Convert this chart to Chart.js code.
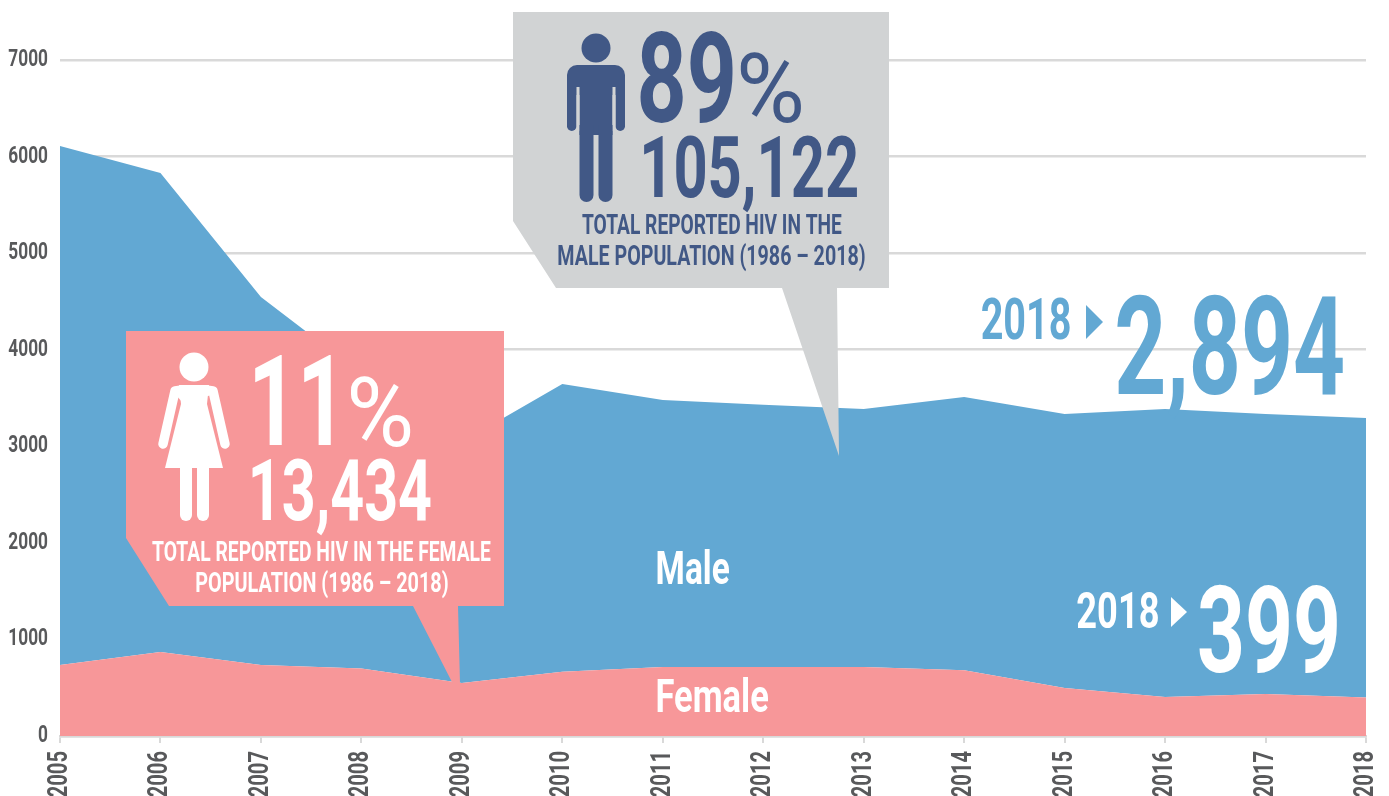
<!DOCTYPE html>
<html><head><meta charset="utf-8">
<style>html,body{margin:0;padding:0;background:#fff;overflow:hidden}canvas{display:block}</style>
<script src="https://cdn.jsdelivr.net/npm/chart.js@4"></script>
</head><body><canvas id="c" width="1389" height="796"></canvas>
<script>
const years=['2005','2006','2007','2008','2009','2010','2011','2012','2013','2014','2015','2016','2017','2018'];
const female=[735,870,735,700,550,665,715,715,715,680,497,405,435,399];
const male=[5375,4960,3811,3050,2495,2980,2765,2715,2670,2830,2838,2980,2900,2894];
const yTicks=[0,1000,2000,3000,4000,5000,6000,7000];
const BLUE='#62a8d3',PINK='#f79799',GREY='#d1d3d4',NAVY='#415886',WHITE='#ffffff',FAM='Roboto,"Liberation Sans",sans-serif';

function fit(ctx,t,x0,x1,base,cap,color,weight='bold'){
  const size=cap/0.71;
  ctx.save();
  ctx.font=weight+' '+size+'px '+FAM;
  ctx.textAlign='left';ctx.textBaseline='alphabetic';ctx.fillStyle=color;
  const m=ctx.measureText(t);
  const w=m.actualBoundingBoxRight+m.actualBoundingBoxLeft;
  ctx.translate(x0,base);ctx.scale((x1-x0)/w,1);
  ctx.fillText(t,m.actualBoundingBoxLeft,0);
  ctx.restore();
}
function poly(ctx,pts,color){
  ctx.fillStyle=color;ctx.beginPath();
  pts.forEach((p,i)=>i?ctx.lineTo(p[0],p[1]):ctx.moveTo(p[0],p[1]));
  ctx.closePath();ctx.fill();
}
function rr(ctx,x,y,w,h,r){ctx.beginPath();ctx.roundRect(x,y,w,h,r);ctx.fill();}
function man(ctx,c){
  ctx.fillStyle=c;
  ctx.beginPath();ctx.arc(596,48,14.5,0,Math.PI*2);ctx.fill();
  rr(ctx,567,65,58,30,[10,10,0,0]);
  rr(ctx,567,85,9.5,46,[0,0,5,5]);
  rr(ctx,615.5,85,9.5,46,[0,0,5,5]);
  ctx.fillStyle=c;
  ctx.fillRect(579.5,85,33,50);
  ctx.fillStyle=GREY;
  ctx.fillRect(576.5,87,3,44);ctx.fillRect(612.5,87,3,44);
  ctx.fillStyle=c;
  rr(ctx,579.5,125,14,77,[0,0,7,7]);
  rr(ctx,598.5,125,14,77,[0,0,7,7]);
}
function woman(ctx,c){
  ctx.fillStyle=c;
  ctx.beginPath();ctx.arc(194,367,14.5,0,Math.PI*2);ctx.fill();
  poly(ctx,[[179,385],[209,385],[207,404],[223,468],[165,468],[181,404]],c);
  ctx.strokeStyle=c;ctx.lineCap='round';ctx.lineJoin='round';ctx.lineWidth=9.5;
  ctx.beginPath();ctx.moveTo(182,390);ctx.lineTo(175,391);ctx.lineTo(163,444);ctx.stroke();
  ctx.beginPath();ctx.moveTo(206,390);ctx.lineTo(213,391);ctx.lineTo(225,444);ctx.stroke();
  poly(ctx,[[176,386],[212,386],[212,395],[182,402],[176,395]],c);
  ctx.fillStyle=c;
  rr(ctx,180,460,12,61,[0,0,6,6]);
  rr(ctx,197,460,12,61,[0,0,6,6]);
}
const overlay={id:'overlay',
 beforeDraw(chart){
  const ctx=chart.ctx;
  if(!ctx.__wrapped){
    const orig=ctx.fillText.bind(ctx);
    ctx.fillText=function(t,x,y){
      if(ctx.__sx&&ctx.__sx!==1){ctx.save();ctx.translate(x,y);ctx.scale(ctx.__sx,1);orig(t,0,0);ctx.restore();}
      else orig(t,x,y);
    };
    ctx.__wrapped=true;
  }
  ctx.__sx=0.72;
 },
 afterDraw(chart){
  const ctx=chart.ctx;
  ctx.__sx=1;
  poly(ctx,[[126,331],[504,331],[504,606],[458,606],[460,684],[453,684],[413,606],[169,606],[126,538]],PINK);
  poly(ctx,[[513,12],[889,12],[889,288],[837,288],[839,456],[782,288],[556,288],[513,221]],GREY);
  man(ctx,NAVY);woman(ctx,WHITE);
  fit(ctx,'89',640,733,122,90,NAVY);
  fit(ctx,'%',740,801,122,68,NAVY,'normal');
  fit(ctx,'105,122',644,857,197,61,NAVY);
  fit(ctx,'TOTAL REPORTED HIV IN THE',582,842,234,20,NAVY);
  fit(ctx,'MALE POPULATION (1986 – 2018)',558,865,265,20,NAVY);
  fit(ctx,'11',255,331,445,90,WHITE);
  fit(ctx,'%',350,410,446,68,WHITE,'normal');
  fit(ctx,'13,434',252,431,520,60,WHITE);
  fit(ctx,'TOTAL REPORTED HIV IN THE FEMALE',152,491,561,20,WHITE);
  fit(ctx,'POPULATION (1986 – 2018)',196,448,592,20,WHITE);
  fit(ctx,'2018',982,1070,339,41,BLUE);
  poly(ctx,[[1086,305],[1103,322],[1086,339]],BLUE);
  fit(ctx,'2,894',1117,1343,394,98,BLUE);
  fit(ctx,'2018',1077,1158,628,36,WHITE);
  poly(ctx,[[1171,597],[1187,612],[1171,627]],WHITE);
  fit(ctx,'399',1199,1337,672,85,WHITE);
  fit(ctx,'Male',657,729,584,33,WHITE);
  fit(ctx,'Female',657,768,712,33,WHITE);
}};
new Chart(document.getElementById('c'),{
  type:'line',
  data:{labels:years,datasets:[
    {label:'Female',data:female,backgroundColor:PINK,borderWidth:0,pointRadius:0,fill:'origin',tension:0,stack:'a'},
    {label:'Male',data:male,backgroundColor:BLUE,borderWidth:0,pointRadius:0,fill:'-1',tension:0,stack:'a'}
  ]},
  options:{
    responsive:false,animation:false,
    layout:{padding:{top:60,right:23,bottom:0,left:0}},
    plugins:{legend:{display:false},tooltip:{enabled:false}},
    scales:{
      x:{type:'category',offset:false,
        afterFit(s){s.height=60;s.paddingLeft=0;s.paddingRight=0;},
        grid:{drawOnChartArea:false,drawTicks:true,tickLength:7,color:'#d9d9d9',lineWidth:2},
        border:{color:'#d9d9d9',width:2.5},
        ticks:{autoSkip:false,maxRotation:90,minRotation:90,padding:8,color:'#58595b',font:{family:FAM,size:28,weight:'bold'}}},
      y:{stacked:true,min:0,max:7000,
        afterFit(s){s.width=60;s.paddingTop=0;s.paddingBottom=0;},
        afterBuildTicks(s){s.ticks=yTicks.map(v=>({value:v}));},
        grid:{color:'#d9d9d9',lineWidth:2.5,drawTicks:false},
        border:{display:false},
        ticks:{padding:12,color:'#58595b',font:{family:FAM,size:24,weight:'bold'},callback:v=>String(v)}}
    }
  },
  plugins:[overlay]
});
</script></body></html>
